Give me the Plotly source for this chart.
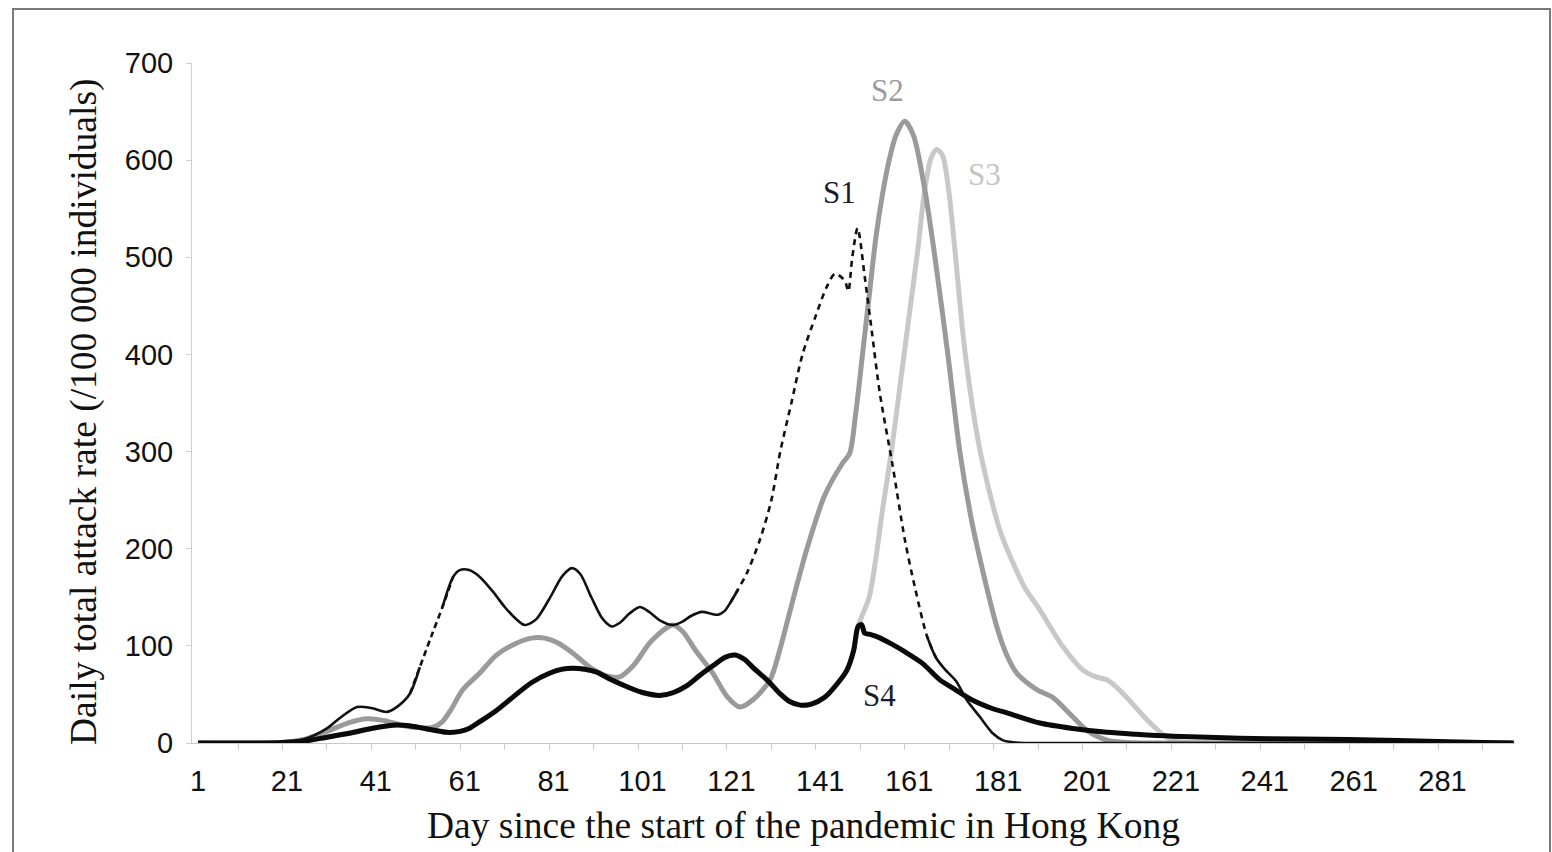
import plotly.graph_objects as go

# ---- data ----
s1_days = [1, 15, 20, 25, 30, 33, 36.8, 40, 43.5, 46, 48.7, 50.9, 53.5, 56, 58.4, 59.9, 62, 64.4,
           67.5, 70, 72.5, 74.5, 77, 80, 83, 85.1, 87, 89.5, 92, 94.1, 96, 98, 100.4, 102.5, 105,
           107.8, 110, 112, 114.4, 116.5, 118, 119.5, 120.7, 122.5, 124.5, 127.4, 130, 132, 134.5,
           137, 140, 142.5, 144.3, 146.5, 147.3, 148.2, 149.4, 151, 152.7, 154.4, 157.3, 160,
           162.3, 165, 167, 169, 171.5, 174, 176.9, 179.8, 182, 185, 190, 297]
s1_vals = [0, 0, 0.5, 4, 15, 26, 37, 36, 32, 38, 51, 78, 110, 140, 171, 178, 178, 171,
           155, 140, 128, 121.5, 127, 148, 172, 180, 174, 150, 128, 120, 124, 133, 140, 135, 126,
           121.5, 125, 131, 135, 133, 132, 136, 144, 158, 175, 209, 250, 300, 350,
           400, 440, 470, 483, 476, 465, 500, 530, 480, 420, 360, 285, 210,
           160, 110, 88, 76, 64, 44, 27, 10, 3, 0.5, 0, 0]

s2_days = [1, 20, 25, 30, 35, 39, 43, 47, 50, 53.8, 56, 58, 60.6, 64.4, 68, 71.8, 76, 79,
           82, 85.5, 89.2, 93, 95.9, 99, 103, 107.8, 110, 113, 116.8, 120, 122.9, 126, 129.7,
           131.9, 135, 138, 142, 146, 147.6, 149, 150.5, 152, 153.5, 155, 156.5, 158, 160,
           162, 164.5, 166.8, 169.7, 172.4, 175, 177, 180.7, 183, 185.2, 189.7, 193.3, 197.8,
           201, 205.5, 210, 220, 297]
s2_vals = [0, 0.5, 4, 12, 21, 25, 23, 18, 16, 16, 22, 35, 55, 72, 90, 101, 108, 108,
           103, 92, 78, 69, 68, 80, 105, 121.5, 115, 95, 72, 48, 37, 45, 65,
           96, 150, 200, 255, 288, 298, 340, 400, 460, 520, 565, 600, 625, 640,
           625, 570, 500, 400, 300, 230, 188, 120, 90, 72, 55, 47, 27,
           13, 3, 0.5, 0, 0]

s4_days = [1, 15, 20, 25, 30, 35, 40, 45.8, 48, 52, 57, 60, 62, 64.4, 68, 71.8, 76, 80.2,
           83, 85.3, 88, 90.7, 94, 98.2, 101, 104.9, 108, 111, 114, 117, 119.5, 121.8, 124,
           126, 129, 131.9, 134, 136.5, 139, 142, 145, 147, 148.5, 149.5, 150.3, 151, 152, 154,
           157, 160, 164, 167.9, 171, 175.3, 180, 183, 190.4, 197.8, 205.5, 212, 220.3, 235.4,
           249, 260, 271, 280, 290, 297]
s4_vals = [0, 0, 0.5, 2, 6, 10, 15, 18.5, 18, 15, 11, 12, 15, 22, 33, 47, 62, 72,
           76, 77, 76, 73, 65, 56.6, 52, 49, 52, 59, 70, 80, 88, 90.6, 86,
           77, 65, 51, 43, 39, 40, 47, 62, 75, 95, 120, 122, 113, 112, 109,
           102, 94, 82, 65, 56, 44, 35, 31, 20.6, 15, 11, 9, 7, 5,
           4, 3.5, 2.5, 1.5, 0.5, 0]

# S3 follows S4 until about day 150, then diverges
s3_days = s4_days[:s4_days.index(150.3)] + [152, 153.5, 155, 157, 159, 161, 163, 164.5, 166,
           167.2, 168.5, 170, 171.3, 173.5, 176.9, 181.4, 184.1, 187, 190.4, 195.6, 200.1, 203,
           205.5, 207.5, 209.9, 214.5, 218.9, 222, 230, 297]
s3_vals = s4_vals[:s4_days.index(150.3)] + [150, 190, 240, 300, 370, 440, 510, 570, 603,
           611, 605, 565, 507, 405, 302, 219, 188, 160, 137, 99, 75, 68,
           65, 58, 47, 24, 6, 1, 0, 0]

x_tick_vals = list(range(1, 282, 20))
x_tick_text = [str(v) for v in x_tick_vals]
x_minor_vals = list(range(10, 300, 10))
y_tick_vals = list(range(0, 701, 100))

series_labels = ["S1", "S2", "S3", "S4"]

# ---- figure ----
W, H = 1552, 852
L, R, T, B = 192, 37, 63, 109
pw, ph = W - L - R, H - T - B

def px2paper(px, py):
    return (px - L) / pw, (H - B - py) / ph

serif = "Liberation Serif, Times New Roman, serif"
sans = "Liberation Sans, Arial, sans-serif"

fig = go.Figure()

fig.add_trace(go.Scatter(x=s3_days, y=s3_vals, mode="lines", name="S3",
                         line=dict(color="#c8c8c8", width=5, shape="spline", smoothing=0.8)))
fig.add_trace(go.Scatter(x=s2_days, y=s2_vals, mode="lines", name="S2",
                         line=dict(color="#9a9a9a", width=5, shape="spline", smoothing=0.8)))

# S1: solid where flat, dashed where steep (marker-series look of the original)
def seg(i0, i1):
    return s1_days[i0:i1 + 1], s1_vals[i0:i1 + 1]

def idx(d):
    return s1_days.index(d)

# solid segments overlap one interval into neighbours
s1_segments = [(idx(1), idx(50.9), "solid"), (idx(48.7), idx(58.4), "6px,4px"),
               (idx(56), idx(122.5), "solid"), (idx(120.7), idx(167), "6px,5px"),
               (idx(165), len(s1_days) - 1, "solid")]
for i0, i1, dash in s1_segments:
    xs, ys = seg(i0, i1)
    fig.add_trace(go.Scatter(x=xs, y=ys, mode="lines", name="S1", showlegend=False,
                             line=dict(color="#111111", width=2.6, dash=dash,
                                       shape="spline", smoothing=0.8)))

fig.add_trace(go.Scatter(x=s4_days, y=s4_vals, mode="lines", name="S4",
                         line=dict(color="#0a0a0a", width=5, shape="spline", smoothing=0.8)))

# series labels
label_pos = {"S1": (145.4, 567, "#1a1a2a"), "S2": (156.2, 672, "#9a9a9a"),
             "S3": (178.0, 585, "#c4c4c4"), "S4": (154.4, 49, "#1a1a2a")}
for name in series_labels:
    x, y, c = label_pos[name]
    fig.add_annotation(x=x, y=y, text=name, showarrow=False,
                       font=dict(family=serif, size=31, color=c))

# axis titles
ax, ay = px2paper(84, 412)
fig.add_annotation(x=ax, y=ay, xref="paper", yref="paper", xanchor="center", yanchor="middle",
                   showarrow=False, textangle=-90,
                   text="Daily total attack rate (/100 000 individuals)",
                   font=dict(family=serif, size=37.5, color="#111"))
bx, by = px2paper(803, 825)
fig.add_annotation(x=bx, y=by, xref="paper", yref="paper", xanchor="center", yanchor="middle",
                   showarrow=False,
                   text="Day since the start of the pandemic in Hong Kong",
                   font=dict(family=serif, size=37.5, color="#111"))

# frame around the picture
fx0, fy0 = px2paper(13, 870)
fx1, fy1 = px2paper(1550, 9)
fig.add_shape(type="rect", xref="paper", yref="paper", x0=fx0, y0=fy0, x1=fx1, y1=fy1,
              line=dict(color="#7a7a7a", width=2), fillcolor="rgba(0,0,0,0)", layer="below")

fig.update_layout(
    width=W, height=H,
    margin=dict(l=L, r=R, t=T, b=B, pad=0),
    paper_bgcolor="white", plot_bgcolor="white",
    showlegend=False,
    xaxis=dict(range=[-0.35, 297.3], tickmode="array", tickvals=x_tick_vals, ticktext=x_tick_text,
               ticks="", showgrid=False, zeroline=False, showline=True, linecolor="#c8c8c8",
               linewidth=1, tickfont=dict(family=sans, size=29, color="#111"),
               ticklabelstandoff=12,
               minor=dict(tickmode="array", tickvals=x_minor_vals, ticks="outside", ticklen=6,
                          tickcolor="#cccccc", tickwidth=1, showgrid=False)),
    yaxis=dict(range=[0, 700], tickmode="array", tickvals=y_tick_vals, ticks="outside",
               ticklen=5, tickcolor="#c8d0dc", showgrid=False, zeroline=False, showline=True,
               linecolor="#c8d0dc", linewidth=1,
               tickfont=dict(family=sans, size=29, color="#111"), ticklabelstandoff=7),
)

fig.write_html("out.html")
